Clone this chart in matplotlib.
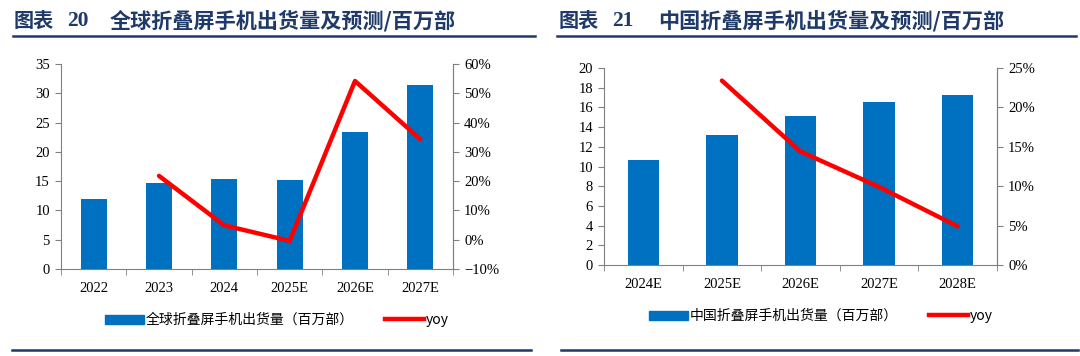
import numpy as np
import matplotlib
matplotlib.use("Agg")
import matplotlib.pyplot as plt
from matplotlib.ticker import PercentFormatter, FixedLocator
from matplotlib.lines import Line2D

plt.rcParams['font.family'] = ['Liberation Serif', 'Noto Sans CJK SC']

# data
g_years = ["2022", "2023", "2024", "2025E", "2026E", "2027E"]
g_ship = [12.0, 14.6, 15.3, 15.2, 23.4, 31.4]
g_yoy = [np.nan, 0.218, 0.049, -0.004, 0.542, 0.343]

c_years = ["2024E", "2025E", "2026E", "2027E", "2028E"]
c_ship = [10.7, 13.2, 15.1, 16.5, 17.3]
c_yoy = [np.nan, 0.234, 0.144, 0.099, 0.049]

BLUE = "#0070C0"
RED = "#FF0000"
NAVY = "#1F3A68"
SPINE = "#808080"
CJK = ['Noto Sans CJK SC', 'DejaVu Sans']

W, H = 1080, 356
fig = plt.figure(figsize=(W / 100, H / 100), dpi=100)


def px_axes(x0, y0, x1, y1):
    return fig.add_axes([x0 / W, 1 - y1 / H, (x1 - x0) / W, (y1 - y0) / H])


def draw_panel(ax, cats, ship, yoy, ymax, ystep, pmin, pmax, pstep, bar_label, leg_y, leg_x):
    n = len(cats)
    x = np.arange(n)
    ax.bar(x, ship, width=0.4, color=BLUE, zorder=2)
    ax.set_xlim(-0.5, n - 0.5)
    ax.set_ylim(0, ymax)
    ax.set_yticks(np.arange(0, ymax + 0.01, ystep))
    ax.set_xticks(x)
    ax.set_xticklabels(cats)
    ax.xaxis.set_minor_locator(FixedLocator(np.arange(-0.5, n, 1.0)))
    ax.tick_params(axis='x', which='major', length=0, pad=9, labelsize=10.5)
    ax.tick_params(axis='x', which='minor', length=4, color=SPINE, direction='out')
    ax.tick_params(axis='y', length=4, color=SPINE, labelsize=10.5, pad=4)
    ax.spines['top'].set_visible(False)
    for s in ['left', 'bottom', 'right']:
        ax.spines[s].set_color(SPINE)

    ax2 = ax.twinx()
    ax2.plot(x, yoy, color=RED, lw=3.2, solid_capstyle='round', zorder=3)
    ax2.set_ylim(pmin, pmax)
    ax2.set_yticks(np.arange(pmin, pmax + 0.001, pstep))
    ax2.yaxis.set_major_formatter(PercentFormatter(1.0, decimals=0))
    ax2.tick_params(axis='y', length=4, color=SPINE, labelsize=10.5, pad=4)
    ax2.spines['top'].set_visible(False)
    ax2.spines['right'].set_color(SPINE)
    ax2.spines['left'].set_visible(False)
    ax2.spines['bottom'].set_visible(False)

    handles = [plt.Rectangle((0, 0), 1, 1, color=BLUE),
               Line2D([0], [0], color=RED, lw=3.2)]
    fig.legend(handles, [bar_label, "yoy"], loc='center left',
               bbox_to_anchor=(leg_x / W, 1 - leg_y / H), ncol=2,
               frameon=False, borderpad=0, borderaxespad=0,
               handlelength=2.8, handleheight=0.6,
               handletextpad=0.15, columnspacing=2.2,
               prop={'family': CJK, 'size': 10})
    return ax2


# left panel
axL = px_axes(61, 64, 453, 269)
draw_panel(axL, g_years, g_ship, g_yoy, 35, 5, -0.1, 0.6, 0.1,
           "全球折叠屏手机出货量（百万部）", 320, 105)

# right panel
axR = px_axes(604, 68, 997, 265)
draw_panel(axR, c_years, c_ship, c_yoy, 20, 2, 0.0, 0.25, 0.05,
           "中国折叠屏手机出货量（百万部）", 316, 649)

# titles: label, number, caption
titles = [
    (14, 67, 110, "20", "全球折叠屏手机出货量及预测/百万部"),
    (559, 612, 658, "21", "中国折叠屏手机出货量及预测/百万部"),
]
ty = 1 - 20.5 / H
for x_lab, x_num, x_cap, num, cap in titles:
    fig.text(x_lab / W, ty, "图表", family=CJK, fontsize=14.5,
             fontweight='bold', color=NAVY, va='center')
    fig.text(x_num / W, ty, num, family=['Liberation Serif'], fontsize=15.5,
             fontweight='bold', color=NAVY, va='center')
    fig.text(x_cap / W, ty, cap, family=CJK, fontsize=15.2,
             fontweight='bold', color=NAVY, va='center')

for x0, x1 in [(13, 535), (557, 1076)]:
    fig.add_artist(Line2D([x0 / W, x1 / W], [1 - 36 / H, 1 - 36 / H], color=NAVY, lw=1.8))
for x0, x1 in [(12, 531), (561, 1078)]:
    fig.add_artist(Line2D([x0 / W, x1 / W], [1 - 350 / H, 1 - 350 / H], color=NAVY, lw=1.8))

fig.savefig("out.png", dpi=100)
